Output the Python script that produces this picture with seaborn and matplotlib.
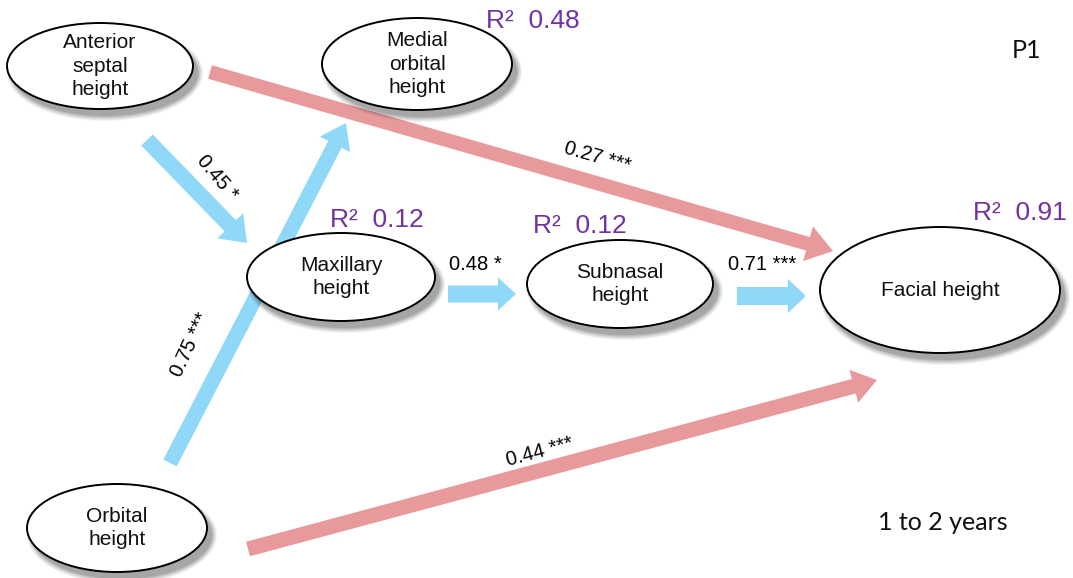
import matplotlib
matplotlib.use("Agg")
import matplotlib.pyplot as plt
import seaborn as sns
from matplotlib.patches import Ellipse, FancyArrow

# ---------------- data ----------------
node_labels = ["Anterior\nseptal\nheight", "Medial\norbital\nheight", "Maxillary\nheight",
               "Subnasal\nheight", "Facial height", "Orbital\nheight"]
r2_nodes = ["Medial\norbital\nheight", "Maxillary\nheight", "Subnasal\nheight", "Facial height"]
r2_values = [0.48, 0.12, 0.12, 0.91]
path_from = ["Anterior\nseptal\nheight", "Anterior\nseptal\nheight", "Orbital\nheight",
             "Maxillary\nheight", "Subnasal\nheight", "Orbital\nheight"]
path_to = ["Facial height", "Maxillary\nheight", "Medial\norbital\nheight",
           "Subnasal\nheight", "Facial height", "Facial height"]
path_coef = [0.27, 0.45, 0.75, 0.48, 0.71, 0.44]
path_sig = ["***", "*", "***", "*", "***", "***"]
path_group = ["direct", "indirect", "indirect", "indirect", "indirect", "direct"]
panel_label = "P1"
age_label = "1 to 2 years"

# ---------------- layout (pixels) ----------------
node_center = [(100, 66), (417, 64), (341, 277), (620, 284), (940, 290), (117, 528)]
node_size = [(186, 86), (190, 92), (188, 88), (186, 88), (240, 126), (180, 88)]
arrow_start = [(210, 72), (147, 140), (170, 463), (448, 294), (737, 296), (248, 549)]
arrow_end = [(833, 251), (247, 243), (346, 123), (516, 294), (806, 296), (877, 380)]
arrow_w = [14, 16, 15, 17, 18, 15]
arrow_hw = [36, 36, 34, 33, 34, 34]
arrow_hl = [26, 24, 24, 18, 18, 24]
coef_pos = [(597, 157), (217, 178), (190, 345), (475, 265), (762, 265), (540, 452)]
coef_rot = [-16, -50, 65, 0, 0, 15]
r2_pos = [(533, 21), (377, 220), (580, 226), (1020, 213)]

sns.set_theme(style="white")
plt.rcParams["font.family"] = ["Liberation Sans", "DejaVu Sans"]
palette = dict(zip(["direct", "indirect"], sns.color_palette(["#e8999b", "#8fd8f7"])))
purple = "#7332a3"

fig = plt.figure(figsize=(10.73, 5.78), dpi=100)
ax = fig.add_axes([0, 0, 1, 1])
ax.set_xlim(0, 1073)
ax.set_ylim(578, 0)
ax.set_aspect("equal")
ax.axis("off")

# arrows (behind nodes)
for i in range(len(path_coef)):
    (x0, y0), (x1, y1) = arrow_start[i], arrow_end[i]
    ax.add_patch(FancyArrow(x0, y0, x1 - x0, y1 - y0, width=arrow_w[i],
                            head_width=arrow_hw[i], head_length=arrow_hl[i],
                            length_includes_head=True, color=palette[path_group[i]],
                            lw=0, zorder=1))
    ax.text(coef_pos[i][0], coef_pos[i][1], f"{path_coef[i]:.2f} {path_sig[i]}",
            rotation=coef_rot[i], rotation_mode="anchor", ha="center", va="center",
            fontsize=14.5, color="black", zorder=5)

# nodes with soft shadows
for lab, (cx, cy), (w, h) in zip(node_labels, node_center, node_size):
    for k, a in zip(range(6), [0.05, 0.05, 0.06, 0.07, 0.08, 0.09]):
        grow = 10 - 2 * k
        ax.add_patch(Ellipse((cx + 5, cy + 7), w + grow, h + grow, color="black",
                             alpha=a, lw=0, zorder=2))
    ax.add_patch(Ellipse((cx, cy), w, h, facecolor="white", edgecolor="black",
                         lw=1.4, zorder=3))
    ax.text(cx, cy, lab, ha="center", va="center", fontsize=15,
            linespacing=1.28, color="#111111", zorder=4)

for (x, y), v in zip(r2_pos, r2_values):
    ax.text(x, y, f"R²  {v:.2f}", ha="center", va="center", fontsize=19,
            color=purple, zorder=5)

ax.text(1027, 50, panel_label, ha="center", va="center", fontsize=18,
        family=["Lato", "DejaVu Sans"], color="#111111")
ax.text(943, 523, age_label, ha="center", va="center", fontsize=18,
        family=["Lato", "DejaVu Sans"], color="#111111")

fig.savefig("out.png", dpi=100, facecolor="white")
